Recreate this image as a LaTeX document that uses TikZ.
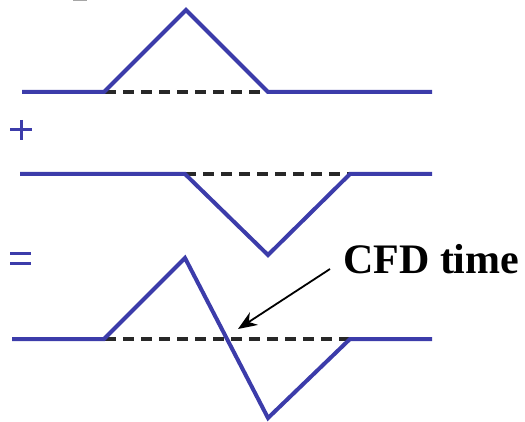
\documentclass[tikz,border=0pt]{standalone}
\usepackage{fontspec}
\setmainfont{Liberation Serif}
\usetikzlibrary{arrows.meta}
\definecolor{wave}{RGB}{60,60,170}
\definecolor{base}{RGB}{40,40,40}
\begin{document}
\begin{tikzpicture}[x=1pt,y=-1pt,
  wavel/.style={draw=wave,line width=4pt,line join=miter},
  basel/.style={draw=base,line width=3.3pt,dash pattern=on 11pt off 7pt},
  sign/.style={draw=wave,line width=3pt},
  lbl/.style={font=\bfseries\fontsize{42}{42}\selectfont,inner sep=0pt,anchor=base west},
  pointer/.style={draw=black,line width=1.8pt,-{Stealth[length=19pt,width=15pt]}}]
\useasboundingbox (0,0) rectangle (525,422);
% small sliver at top edge
\fill[gray!70] (73,0) rectangle (87,1.5);
% baselines
\draw[basel] (105,92) -- (267,92);
\draw[basel] (185,174) -- (350,174);
\draw[basel] (105,339) -- (350,339);
% top wave
\draw[wavel] (22,92) -- (104,92) -- (186,10) -- (268,92) -- (432,92);
% plus
\draw[sign] (10,130) -- (32,130);
\draw[sign] (21,120) -- (21,140);
% middle wave
\draw[wavel] (20,174) -- (185,174) -- (268,255) -- (350,174) -- (432,174);
% equals
\draw[sign] (10,254) -- (31,254);
\draw[sign] (10,264) -- (31,264);
% bottom wave
\draw[wavel] (12,339) -- (104,339) -- (185,258) -- (268,418) -- (350,339) -- (432,339);
% label and arrow
\node[lbl] (cfd) at (343,273) {CFD time};
\coordinate (as) at (330,269);
\coordinate (tip) at (238,329);
\draw[pointer] (as) -- (tip);
\end{tikzpicture}
\end{document}
